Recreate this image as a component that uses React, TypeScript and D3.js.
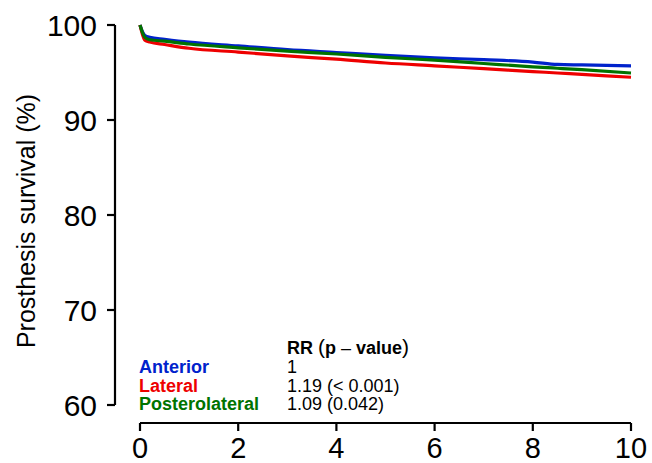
import React from "react";
import * as d3 from "d3";

const years = [0, 0.05, 0.1, 0.2, 0.5, 1, 2, 3, 4, 5, 6, 7, 8, 8.5, 9, 10];
const anterior = [100, 99.3, 98.9, 98.7, 98.5, 98.2, 97.8, 97.4, 97.1, 96.8, 96.55, 96.35, 96.1, 95.85, 95.8, 95.7];
const lateral = [100, 99.0, 98.4, 98.2, 97.95, 97.55, 97.15, 96.75, 96.4, 96.0, 95.7, 95.4, 95.1, 94.95, 94.8, 94.5];
const posterolateral = [100, 99.2, 98.7, 98.45, 98.3, 98.0, 97.6, 97.25, 96.95, 96.6, 96.3, 95.95, 95.6, 95.45, 95.3, 94.95];

const seriesNames = ["Anterior", "Lateral", "Posterolateral"];
const seriesColors = ["#0022CC", "#EE0000", "#007300"];
const rrLabels = ["1", "1.19 (< 0.001)", "1.09 (0.042)"];
const xTicks = [0, 2, 4, 6, 8, 10];
const yTicks = [60, 70, 80, 90, 100];

export default function App() {
  const x = d3.scaleLinear().domain([0, 10]).range([140, 631]);
  const y = d3.scaleLinear().domain([60, 100]).range([405, 25]);
  const line = d3
    .line<number>()
    .x((_, i) => x(years[i]))
    .y((d) => y(d))
    .curve(d3.curveMonotoneX);
  const data = [anterior, lateral, posterolateral];
  const font = "Liberation Sans, Arial, Helvetica, sans-serif";
  const axisY = 423;
  const axisX = 115;

  return (
    <svg width={652} height={463} style={{ position: "absolute", left: 0, top: 0, background: "#fff" }} fontFamily={font}>
      <rect width={652} height={463} fill="#fff" />
      {/* y axis */}
      <line x1={axisX} x2={axisX} y1={y(100)} y2={y(60)} stroke="#000" strokeWidth={2.2} />
      {yTicks.map((t) => (
        <g key={t}>
          <line x1={axisX - 8} x2={axisX} y1={y(t)} y2={y(t)} stroke="#000" strokeWidth={2.2} />
          <text x={97} y={y(t)} dy="0.36em" textAnchor="end" fontSize={30}>
            {t}
          </text>
        </g>
      ))}
      <text transform={`translate(35,221) rotate(-90)`} textAnchor="middle" fontSize={25}>
        Prosthesis survival (%)
      </text>
      {/* x axis */}
      <line x1={x(0)} x2={x(10)} y1={axisY} y2={axisY} stroke="#000" strokeWidth={2.2} />
      {xTicks.map((t) => (
        <g key={t}>
          <line x1={x(t)} x2={x(t)} y1={axisY} y2={axisY + 8} stroke="#000" strokeWidth={2.2} />
          <text x={x(t)} y={458} textAnchor="middle" fontSize={29}>
            {t}
          </text>
        </g>
      ))}
      {/* curves */}
      {data.map((d, i) => (
        <path key={i} d={line(d) || ""} fill="none" stroke={seriesColors[i]} strokeWidth={3.2} />
      ))}
      {/* legend */}
      <text x={287} y={354} fontSize={18}>
        <tspan fontWeight="bold">RR </tspan>
        <tspan fontSize={21}>(</tspan>
        <tspan fontWeight="bold">p</tspan>
        <tspan> – </tspan>
        <tspan fontWeight="bold">value</tspan>
        <tspan fontSize={21}>)</tspan>
      </text>
      {seriesNames.map((n, i) => (
        <g key={n}>
          <text x={139} y={373 + i * 18.5} fontSize={18} fontWeight="bold" fill={seriesColors[i]}>
            {n}
          </text>
          <text x={287} y={373 + i * 18.5} fontSize={18}>
            {rrLabels[i]}
          </text>
        </g>
      ))}
    </svg>
  );
}
